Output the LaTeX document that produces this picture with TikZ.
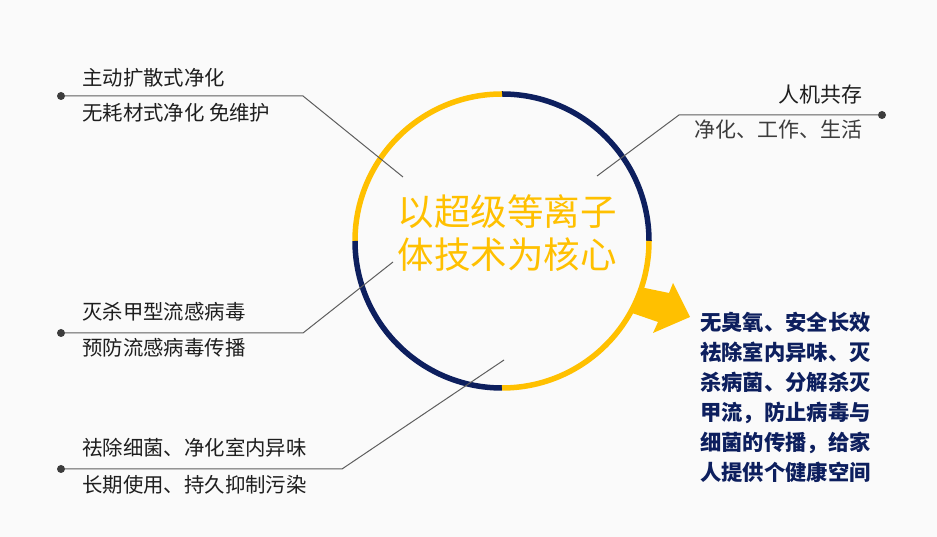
\documentclass[tikz,border=0pt]{standalone}
\usepackage{fontspec}
\newfontfamily\cjk{Noto Sans CJK SC}
\usetikzlibrary{positioning}
\definecolor{ringyellow}{HTML}{FFC000}
\definecolor{ringnavy}{HTML}{0D1F5E}
\definecolor{leadgray}{HTML}{5E5E5E}
\definecolor{inkdark}{HTML}{1E1E1E}
\definecolor{inkgray}{HTML}{3C3C3C}
\definecolor{paper}{HTML}{FAFAFA}

\begin{document}
\begin{tikzpicture}[x=1pt, y=1pt,
  ring/.style={line width=5.5pt},
  lead/.style={leadgray, line width=1pt},
  dot/.style={circle, fill=inkgray, inner sep=0pt, minimum size=8pt},
  tag/.style={inner sep=0pt, text=inkdark, font=\cjk\fontsize{20.4}{24}\selectfont},
  core/.style={align=center, text=ringyellow, font=\cjk\fontsize{36.5}{43}\selectfont},
  effect/.style={align=left, inner sep=0pt, text=ringnavy, font=\cjk\bfseries\fontsize{21.3}{30}\selectfont}]
  \fill[paper] (0,0) rectangle (937,537);
  \useasboundingbox (0,0) rectangle (937,537);
  % arrow out of the ring
  \fill[ringyellow] (640,250) -- (669,244) -- (673,254) -- (690,220) -- (653,204) -- (658,215) -- (632,224) -- cycle;
  % ring in four quarters
  \coordinate (ctr) at (502,296);
  \draw[ring, ringnavy] (ctr) ++(0:147pt) arc (0:90:147pt);
  \draw[ring, ringyellow] (ctr) ++(90:147pt) arc (90:180:147pt);
  \draw[ring, ringnavy] (ctr) ++(180:147pt) arc (180:270:147pt);
  \draw[ring, ringyellow] (ctr) ++(270:147pt) arc (270:360:147pt);
  \node[core] (core) at (507,304) {以超级等离子\\体技术为核心};
  % top left
  \node[dot] (dotA) at (61,441) {};
  \coordinate (bendA) at (303,441);
  \coordinate (endA) at (403,360);
  \draw[lead] (dotA) -- (bendA) -- (endA);
  \node[tag, anchor=west] (tagA1) at (82,459) {主动扩散式净化};
  \node[tag, anchor=west] (tagA2) at (82,424) {无耗材式净化 免维护};
  % top right
  \node[dot] (dotB) at (882,422) {};
  \coordinate (bendB) at (679,422);
  \coordinate (endB) at (597,361);
  \draw[lead] (dotB) -- (bendB) -- (endB);
  \node[tag, anchor=east, font=\cjk\fontsize{21}{24}\selectfont] (tagB1) at (863,442) {人机共存};
  \node[tag, anchor=east, text=inkgray, font=\cjk\fontsize{21}{24}\selectfont] (tagB2) at (863,407) {净化、工作、生活};
  % middle left
  \node[dot] (dotC) at (61,204) {};
  \coordinate (bendC) at (303,204);
  \coordinate (endC) at (393,275);
  \draw[lead] (dotC) -- (bendC) -- (endC);
  \node[tag, anchor=west] (tagC1) at (82,225) {灭杀甲型流感病毒};
  \node[tag, anchor=west] (tagC2) at (82,189) {预防流感病毒传播};
  % bottom left
  \node[dot] (dotD) at (61,68) {};
  \coordinate (bendD) at (342,68);
  \coordinate (endD) at (504,177);
  \draw[lead] (dotD) -- (bendD) -- (endD);
  \node[tag, anchor=west] (tagD1) at (82,89) {祛除细菌、净化室内异味};
  \node[tag, anchor=west] (tagD2) at (82,52) {长期使用、持久抑制污染};
  % effect text
  \node[effect, anchor=west] (effect) at (700,140) {无臭氧、安全长效\\祛除室内异味、灭\\杀病菌、分解杀灭\\甲流，防止病毒与\\细菌的传播，给家\\人提供个健康空间};
\end{tikzpicture}
\end{document}
